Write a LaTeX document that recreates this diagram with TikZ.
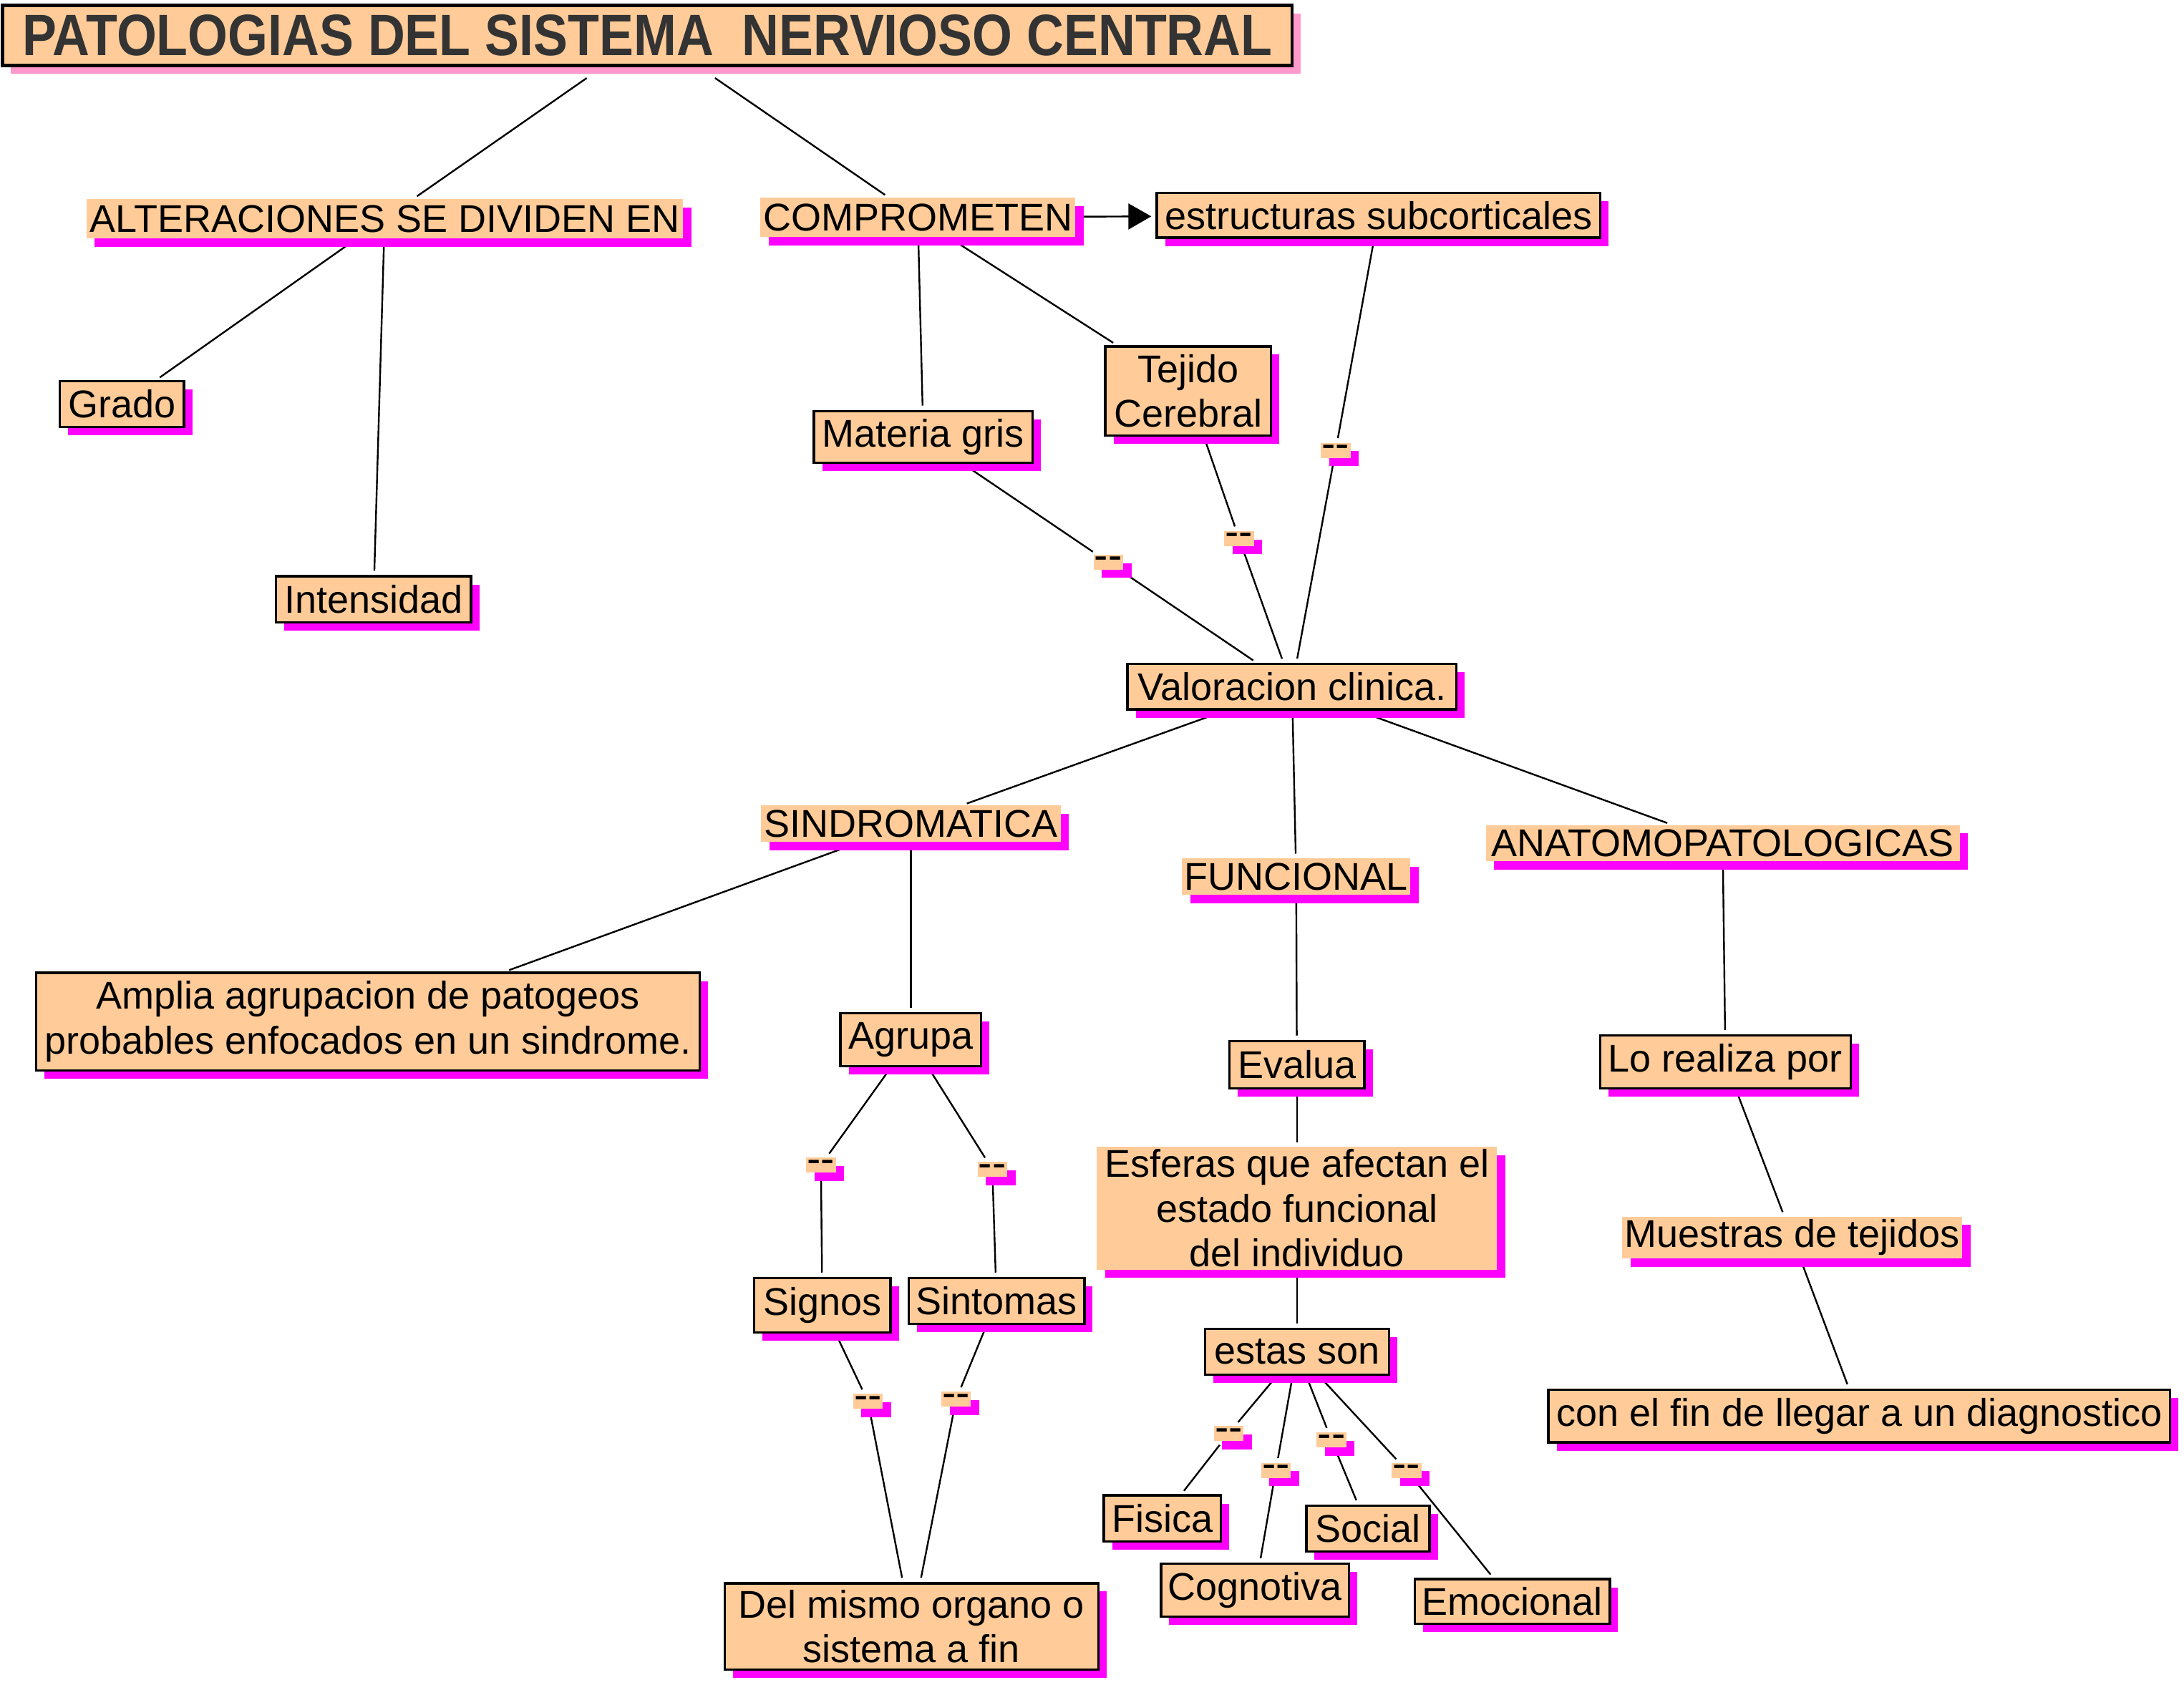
\documentclass[tikz,border=0pt]{standalone}
\usepackage{fontspec}
\setmainfont{Liberation Sans}
\newfontfamily\titlefont{Liberation Sans}[FakeStretch=0.88]
\usetikzlibrary{arrows.meta}
\definecolor{peach}{HTML}{FFCC99}
\definecolor{shad}{HTML}{FF00FF}
\definecolor{pinksh}{HTML}{FF99CC}
\definecolor{tgray}{HTML}{333333}
\pgfdeclarelayer{background}
\pgfsetlayers{background,main}
\newcommand\nodefont{\fontsize{13.5}{15.6}\selectfont}
\newcommand\ttlfont{\titlefont\bfseries\fontsize{20.4}{24}\selectfont}
\newcommand\dshfont{\fontsize{14.5}{14.5}\selectfont}
\tikzset{
  sz/.style n args={2}{minimum width=#1*0.48675pt, minimum height=#2*0.48675pt},
  magshadow/.style={preaction={draw=none, fill=shad, transform canvas={xshift=2.9pt, yshift=-2.9pt}}},
  pinkshadow/.style={preaction={draw=none, fill=pinksh, transform canvas={xshift=2.9pt, yshift=-2.9pt}}},
  txt/.style={font=\nodefont, align=center, inner sep=0pt},
  box/.style={txt, draw=black, line width=0.85pt, fill=peach, magshadow},
  phrase/.style={txt, fill=peach, magshadow},
  titlebox/.style={draw=black, line width=1.2pt, fill=peach, pinkshadow, inner sep=0pt, text=tgray, font=\ttlfont},
  dashlbl/.style={fill=peach, magshadow, font=\dshfont, inner xsep=0.35pt, inner ysep=0pt, text height=5.22pt, text depth=-2.72pt},
  link/.style={line width=0.6pt, shorten <=1.5pt, shorten >=1.5pt}
}
\begin{document}
\begin{tikzpicture}[x=0.48675pt, y=-0.48675pt]
\useasboundingbox (0,0) rectangle (1567,1209);

\node[titlebox, sz={925}{43}] (title) at (464.5,25.5) {PATOLOGIAS DEL SISTEMA\ \ NERVIOSO CENTRAL};

\node[phrase, sz={428}{28}] (alter) at (276,157) {ALTERACIONES SE DIVIDEN EN};
\node[phrase, sz={226}{28}] (compro) at (658.5,156) {COMPROMETEN};
\node[box, sz={318}{32}] (estruct) at (989,154.5) {estructuras subcorticales};
\node[box, sz={89}{33}] (grado) at (87.5,290) {Grado};
\node[box, sz={140}{33}] (inten) at (268,430) {Intensidad};
\node[box, sz={157}{37}] (materia) at (662.5,313.5) {Materia gris};
\node[box, sz={119}{64}] (tejido) at (852.5,280.5) {Tejido\\Cerebral};
\node[box, sz={236}{32.5}] (valor) at (927,492.7) {Valoracion clinica.};

\node[dashlbl] (l1) at (958.3,323.2) {-{}-};
\node[dashlbl] (l2) at (795.2,403.4) {-{}-};
\node[dashlbl] (l3) at (889,386.4) {-{}-};

\node[phrase, sz={215}{26}] (sindro) at (653.5,591) {SINDROMATICA};
\node[phrase, sz={164}{26}] (funcional) at (930,629) {FUNCIONAL};
\node[phrase, sz={340}{26}] (anato) at (1236,605) {ANATOMOPATOLOGICAS};

\node[box, sz={476}{70}] (amplia) at (264,733) {Amplia agrupacion de patogeos\\probables enfocados en un sindrome.};
\node[box, sz={101}{38}] (agrupa) at (653.5,746) {Agrupa};
\node[box, sz={97}{34}] (evalua) at (930.5,764) {Evalua};
\node[box, sz={180}{38}] (lorealiza) at (1238,762) {Lo realiza por};
\node[phrase, sz={287}{88}] (esferas) at (930.5,867) {Esferas que afectan el\\estado funcional\\del individuo};
\node[phrase, sz={244}{30}] (muestras) at (1286,888) {Muestras de tejidos};

\node[dashlbl] (l4) at (589,836) {-{}-};
\node[dashlbl] (l5) at (712,839) {-{}-};

\node[box, sz={98}{39}] (signos) at (590,936.5) {Signos};
\node[box, sz={126}{33}] (sintomas) at (715,933.5) {Sintomas};
\node[box, sz={132}{33}] (estas) at (930.5,970) {estas son};
\node[box, sz={446}{38}] (confin) at (1334,1016) {con el fin de llegar a un diagnostico};

\node[dashlbl] (l6) at (622.7,1005.5) {-{}-};
\node[dashlbl] (l7) at (686,1004) {-{}-};
\node[dashlbl] (l8) at (881.5,1028.6) {-{}-};
\node[dashlbl] (l9) at (915.4,1055) {-{}-};
\node[dashlbl] (l10) at (955.3,1033.2) {-{}-};
\node[dashlbl] (l11) at (1009.2,1055) {-{}-};

\node[box, sz={84}{33}] (fisica) at (834,1089.5) {Fisica};
\node[box, sz={88.5}{33}] (social) at (981.5,1096.7) {Social};
\node[box, sz={135}{38}] (cogno) at (900.5,1141) {Cognotiva};
\node[box, sz={140}{32}] (emocional) at (1085,1149) {Emocional};
\node[box, sz={268}{62}] (delmismo) at (654,1167) {Del mismo organo o\\sistema a fin};

\begin{pgfonlayer}{background}
\draw[link] ([shift={(-41,6)}]title.south) -- (alter);
\draw[link] ([shift={(46,6)}]title.south) -- (compro);
\draw[link] (alter) -- (grado);
\draw[link] (alter) -- (inten);
\draw[link] (compro) -- (materia);
\draw[link] (compro) -- (tejido);
\draw[link, -{Triangle[length=8pt, width=9pt]}] (compro) -- (estruct);
\draw[link] (estruct) -- (l1);
\draw[link] (l1) -- (valor);
\draw[link] (materia) -- (l2);
\draw[link] (l2) -- (valor);
\draw[link] (tejido) -- (l3);
\draw[link] (l3) -- (valor);
\draw[link] (valor) -- (sindro);
\draw[link] (valor) -- (funcional);
\draw[link] (valor) -- (anato);
\draw[link] (sindro) -- (amplia);
\draw[link] (sindro) -- (agrupa);
\draw[link] (funcional) -- (evalua);
\draw[link] (anato) -- (lorealiza);
\draw[link] (lorealiza) -- (muestras);
\draw[link] (muestras) -- (confin);
\draw[link] (evalua) -- (esferas);
\draw[link] (esferas) -- (estas);
\draw[link] (agrupa) -- (l4);
\draw[link] (l4) -- (signos);
\draw[link] (agrupa) -- (l5);
\draw[link] (l5) -- (sintomas);
\draw[link] (signos) -- (l6);
\draw[link] (l6) -- (delmismo);
\draw[link] (sintomas) -- (l7);
\draw[link] (l7) -- (delmismo);
\draw[link] (estas) -- (l8);
\draw[link] (l8) -- (fisica);
\draw[link] (estas) -- (l9);
\draw[link] (l9) -- (cogno);
\draw[link] (estas) -- (l10);
\draw[link] (l10) -- (social);
\draw[link] (estas) -- (l11);
\draw[link] (l11) -- (emocional);
\end{pgfonlayer}
\end{tikzpicture}
\end{document}
